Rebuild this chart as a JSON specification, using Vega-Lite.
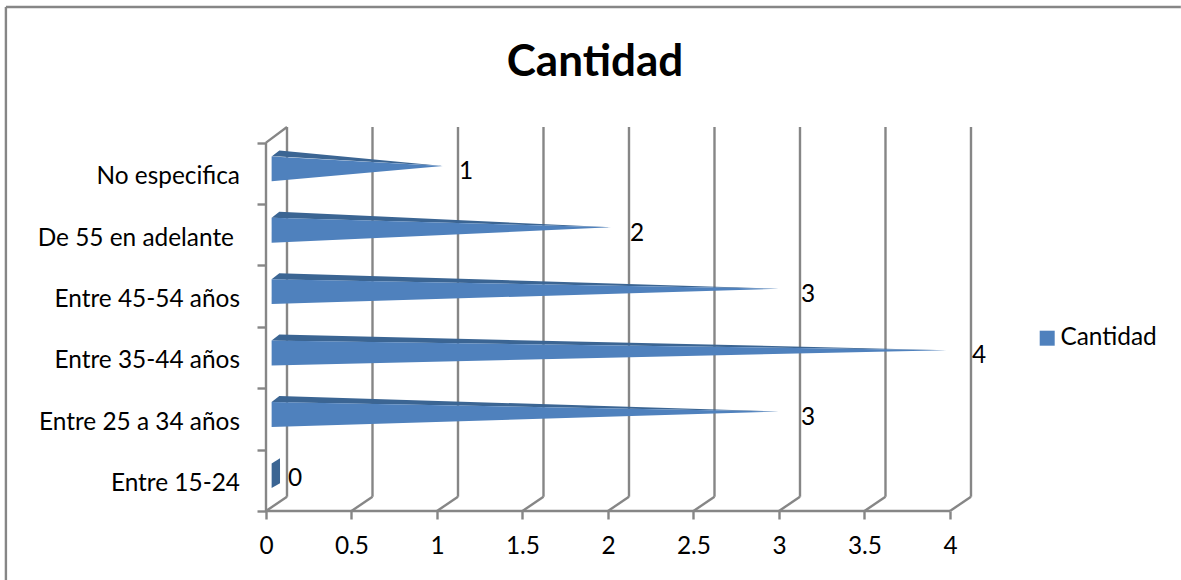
{
"$schema":"https://vega.github.io/schema/vega-lite/v6.json",
"width":706,"height":384,"autosize":{"type":"none"},
"padding":{"left":266,"top":127,"right":209,"bottom":69},
"background":"white",
"config":{"view":{"stroke":null},"font":"Lato"},
"title":{"text":"Cantidad","font":"Lato","fontSize":44,"fontWeight":"bold","color":"#000000","anchor":"middle","dx":-24,"offset":-79},
"datasets":{
"lineas":[
{"x1":-1.521,"y1":8.208,"x2":5.35,"y2":8.208},
{"x1":-1.521,"y1":8.208,"x2":-1.521,"y2":-1.13},
{"x1":0,"y1":0,"x2":4,"y2":0},
{"x1":0,"y1":0,"x2":0,"y2":6},
{"x1":0,"y1":6,"x2":0.1228,"y2":6.254},
{"x1":0,"y1":0,"x2":0.1228,"y2":0.233},{"x1":0.1228,"y1":0.233,"x2":0.1228,"y2":6.254},
{"x1":0.5,"y1":0,"x2":0.6228,"y2":0.233},{"x1":0.6228,"y1":0.233,"x2":0.6228,"y2":6.254},
{"x1":1,"y1":0,"x2":1.1228,"y2":0.233},{"x1":1.1228,"y1":0.233,"x2":1.1228,"y2":6.254},
{"x1":1.5,"y1":0,"x2":1.6228,"y2":0.233},{"x1":1.6228,"y1":0.233,"x2":1.6228,"y2":6.254},
{"x1":2,"y1":0,"x2":2.1228,"y2":0.233},{"x1":2.1228,"y1":0.233,"x2":2.1228,"y2":6.254},
{"x1":2.5,"y1":0,"x2":2.6228,"y2":0.233},{"x1":2.6228,"y1":0.233,"x2":2.6228,"y2":6.254},
{"x1":3,"y1":0,"x2":3.1228,"y2":0.233},{"x1":3.1228,"y1":0.233,"x2":3.1228,"y2":6.254},
{"x1":3.5,"y1":0,"x2":3.6228,"y2":0.233},{"x1":3.6228,"y1":0.233,"x2":3.6228,"y2":6.254},
{"x1":4,"y1":0,"x2":4.1228,"y2":0.233},{"x1":4.1228,"y1":0.233,"x2":4.1228,"y2":6.254}
],
"frente":[
{"serie":"Cantidad","categoria":"Entre 25 a 34 años","x":0.033,"sup":1.775,"inf":1.37},{"serie":"Cantidad","categoria":"Entre 25 a 34 años","x":3.0,"sup":1.62,"inf":1.62},
{"serie":"Cantidad","categoria":"Entre 35-44 años","x":0.033,"sup":2.775,"inf":2.37},{"serie":"Cantidad","categoria":"Entre 35-44 años","x":3.982,"sup":2.62,"inf":2.62},
{"serie":"Cantidad","categoria":"Entre 45-54 años","x":0.033,"sup":3.775,"inf":3.37},{"serie":"Cantidad","categoria":"Entre 45-54 años","x":3.0,"sup":3.62,"inf":3.62},
{"serie":"Cantidad","categoria":"De 55 en adelante","x":0.033,"sup":4.775,"inf":4.37},{"serie":"Cantidad","categoria":"De 55 en adelante","x":2.018,"sup":4.62,"inf":4.62},
{"serie":"Cantidad","categoria":"No especifica","x":0.033,"sup":5.775,"inf":5.37},{"serie":"Cantidad","categoria":"No especifica","x":1.035,"sup":5.62,"inf":5.62}
],
"superior":[
{"categoria":"Entre 15-24","x":0.033,"sup":0.775,"inf":0.375},{"categoria":"Entre 15-24","x":0.082,"sup":0.858,"inf":0.451},
{"categoria":"Entre 25 a 34 años","x":0.033,"sup":1.775,"inf":1.775},{"categoria":"Entre 25 a 34 años","x":0.078,"sup":1.873,"inf":1.772},{"categoria":"Entre 25 a 34 años","x":3.0,"sup":1.62,"inf":1.62},
{"categoria":"Entre 35-44 años","x":0.033,"sup":2.775,"inf":2.775},{"categoria":"Entre 35-44 años","x":0.078,"sup":2.873,"inf":2.772},{"categoria":"Entre 35-44 años","x":3.982,"sup":2.62,"inf":2.62},
{"categoria":"Entre 45-54 años","x":0.033,"sup":3.775,"inf":3.775},{"categoria":"Entre 45-54 años","x":0.078,"sup":3.873,"inf":3.772},{"categoria":"Entre 45-54 años","x":3.0,"sup":3.62,"inf":3.62},
{"categoria":"De 55 en adelante","x":0.033,"sup":4.775,"inf":4.775},{"categoria":"De 55 en adelante","x":0.078,"sup":4.873,"inf":4.772},{"categoria":"De 55 en adelante","x":2.018,"sup":4.62,"inf":4.62},
{"categoria":"No especifica","x":0.033,"sup":5.775,"inf":5.775},{"categoria":"No especifica","x":0.078,"sup":5.873,"inf":5.772},{"categoria":"No especifica","x":1.035,"sup":5.62,"inf":5.62}
],
"filas":[
{"categoria":"Entre 15-24","valor":0,"centro":0.5},
{"categoria":"Entre 25 a 34 años","valor":3,"centro":1.5},
{"categoria":"Entre 35-44 años","valor":4,"centro":2.5},
{"categoria":"Entre 45-54 años","valor":3,"centro":3.5},
{"categoria":"De 55 en adelante","valor":2,"centro":4.5},
{"categoria":"No especifica","valor":1,"centro":5.5}
]
},
"resolve":{"scale":{"x":"shared","y":"shared"}},
"layer":[
{"data":{"name":"lineas"},"mark":{"type":"rule","stroke":"#868686","strokeWidth":2.4,"clip":false},
"encoding":{
"x":{"field":"x1","type":"quantitative","scale":{"domain":[0,4.1287],"nice":false,"zero":false},
"axis":{"values":[0,0.5,1,1.5,2,2.5,3,3.5,4],"title":null,"grid":false,"domain":false,"ticks":true,"tickSize":8,"tickWidth":2.4,"tickColor":"#868686","labelFontSize":24.4,"labelFont":"Lato","labelColor":"#000000","labelPadding":15,"labelFlush":false,"labelOverlap":false,"format":"~g"}},
"y":{"field":"y1","type":"quantitative","scale":{"domain":[0,6.254],"nice":false,"zero":false},
"axis":{"values":[0,1,2,3,4,5,6],"title":null,"grid":false,"domain":false,"labels":false,"ticks":true,"tickSize":9,"tickWidth":2.4,"tickColor":"#868686"}},
"x2":{"field":"x2"},"y2":{"field":"y2"}}},
{"data":{"name":"superior"},"mark":{"type":"area","orient":"vertical","color":"#3b6593"},
"encoding":{"x":{"field":"x","type":"quantitative"},"y":{"field":"sup","type":"quantitative"},"y2":{"field":"inf"},"detail":{"field":"categoria"}}},
{"data":{"name":"frente"},"mark":{"type":"area","orient":"vertical"},
"encoding":{"x":{"field":"x","type":"quantitative"},"y":{"field":"sup","type":"quantitative"},"y2":{"field":"inf"},"detail":{"field":"categoria"},
"color":{"field":"serie","type":"nominal","scale":{"domain":["Cantidad"],"range":["#4f81bd"]},
"legend":{"title":null,"orient":"none","legendX":769,"legendY":199,"symbolType":"square","symbolSize":225,"symbolStrokeWidth":0,"labelFontSize":24.4,"labelFont":"Lato","labelColor":"#000000","labelOffset":1}}}},
{"data":{"name":"filas"},"transform":[{"filter":"datum.categoria !== 'De 55 en adelante'"}],"mark":{"type":"text","align":"right","baseline":"middle","fontSize":24.4,"font":"Lato","color":"#000000","dx":-26,"dy":4},
"encoding":{"x":{"datum":0,"type":"quantitative"},"y":{"field":"centro","type":"quantitative"},"text":{"field":"categoria"}}},
{"data":{"name":"filas"},"transform":[{"filter":"datum.categoria === 'De 55 en adelante'"}],"mark":{"type":"text","align":"right","baseline":"middle","fontSize":24.4,"font":"Lato","color":"#000000","dx":-32,"dy":4},
"encoding":{"x":{"datum":0,"type":"quantitative"},"y":{"field":"centro","type":"quantitative"},"text":{"field":"categoria"}}},
{"data":{"name":"filas"},"mark":{"type":"text","align":"center","baseline":"middle","fontSize":24.4,"font":"Lato","color":"#000000","dx":29,"dy":-1},
"encoding":{"x":{"field":"valor","type":"quantitative"},"y":{"field":"centro","type":"quantitative"},"text":{"field":"valor","type":"quantitative"}}}
]
}
